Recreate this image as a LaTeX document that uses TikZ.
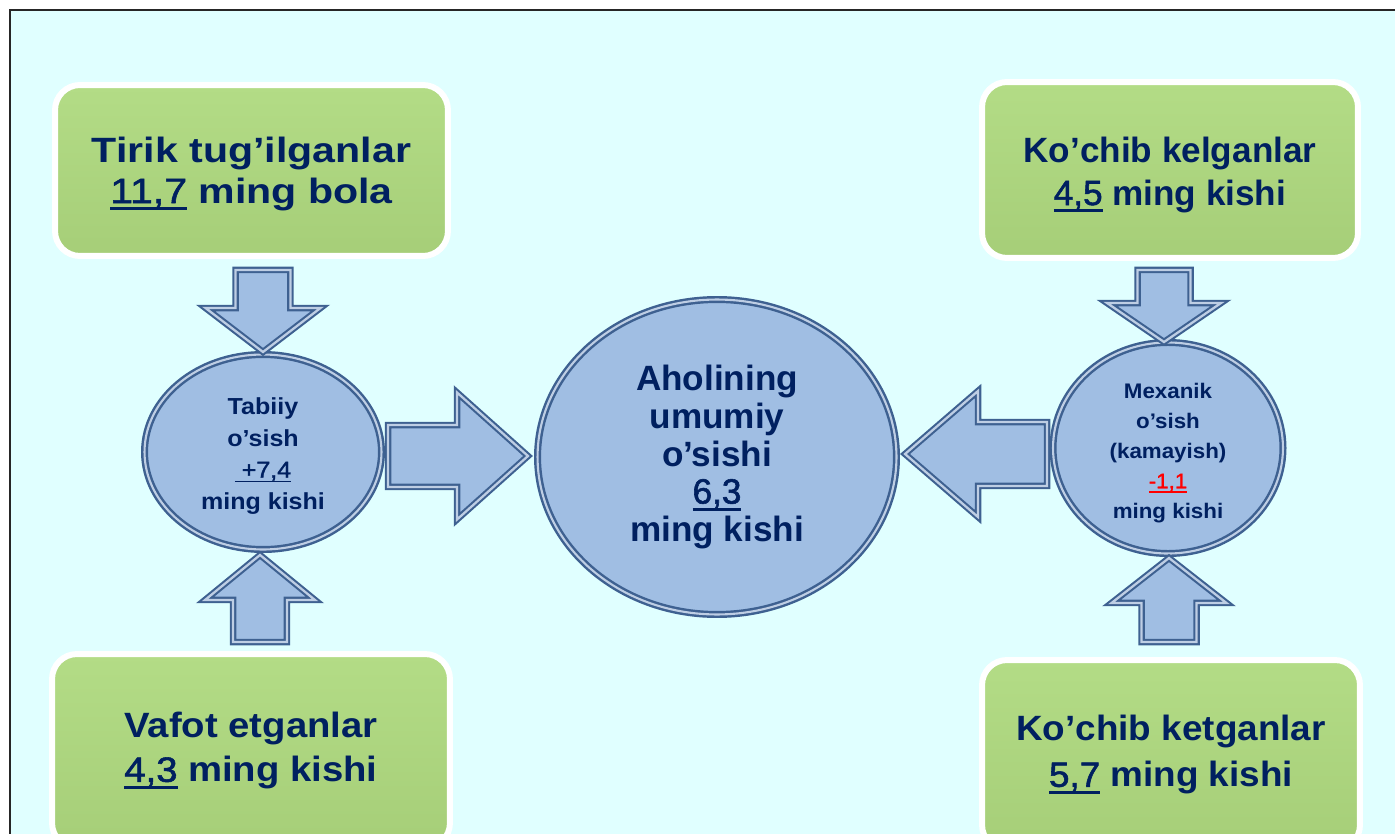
\documentclass[tikz,border=0pt]{standalone}
\usepackage{fontspec}
\setmainfont{Liberation Sans}
\newfontfamily\tlfont{Liberation Sans}[FakeStretch=1.17]
\newfontfamily\blfont{Liberation Sans}[FakeStretch=1.09]
\newfontfamily\brfont{Liberation Sans}[FakeStretch=1.05]
\newfontfamily\lellfont{Liberation Sans}[FakeStretch=1.08]
\newfontfamily\rellfont{Liberation Sans}[FakeStretch=1.06]
\usetikzlibrary{shapes.geometric,calc}
\definecolor{bgcyan}{RGB}{224,255,255}
\definecolor{navy}{RGB}{0,32,96}
\definecolor{greentop}{RGB}{179,220,134}
\definecolor{greenbot}{RGB}{166,206,120}
\definecolor{bluefill}{RGB}{160,190,227}
\definecolor{bluedark}{RGB}{62,97,145}
\definecolor{bluelight}{RGB}{190,206,228}
\definecolor{numred}{RGB}{255,0,0}
\newcommand\numtxt[1]{\mdseries\addfontfeatures{FakeBold=1.6}#1}
\newcommand\myul[1]{\setbox0\hbox{\numtxt{#1}}\rlap{\rule[-0.2em]{\wd0}{0.075em}}\box0\relax}
\newcommand\blockarr[5]{%
  \path ($(#2)!#5!(#1)$) coordinate (bah);
  \filldraw[arrowbox] ($(#1)!#3!90:(#2)$) -- ($(bah)!#3!90:(#2)$) -- ($(bah)!#4!90:(#2)$) -- (#2) -- ($(bah)!#4!-90:(#2)$) -- ($(bah)!#3!-90:(#2)$) -- ($(#1)!#3!-90:(#2)$) -- cycle;}
\tikzset{
  greenbox/.style={rectangle, rounded corners=0.5cm, draw=white, line width=3.4pt,
    top color=greentop, bottom color=greenbot, text=navy, align=center, inner sep=0pt},
  ell/.style={ellipse, fill=bluefill, draw=bluedark, double=bluelight, line width=1.4pt,
    double distance=1.2pt, text=navy, align=center, inner sep=0pt},
  arrowbox/.style={fill=bluefill, draw=bluedark, double=bluelight, line width=1.2pt,
    double distance=1.3pt, line join=miter}
}
\begin{document}
\begin{tikzpicture}[x=0.02cm, y=-0.02cm]
\useasboundingbox (0,0) rectangle (1395,834);
\clip (0,0) rectangle (1395,834);
\fill[white] (0,0) rectangle (1395,834);
\filldraw[fill=bgcyan, draw=black!85, line width=1.2pt] (10,10) rectangle (1430,880);

% green boxes
\node[greenbox, minimum width=7.86cm, minimum height=3.42cm,
  font=\tlfont\bfseries\fontsize{20}{23.3}\selectfont] (tl) at (251.5,170.5)
  {\rule{0pt}{18.7pt}Tirik tug’ilganlar\\\myul{11,7} ming bola\rule[-5pt]{0pt}{0pt}};
\node[greenbox, minimum width=7.52cm, minimum height=3.52cm,
  font=\bfseries\fontsize{20}{24.5}\selectfont] (tr) at (1170,170)
  {\rule{0pt}{20.4pt}Ko’chib kelganlar\\\myul{4,5} ming kishi\rule[-5pt]{0pt}{0pt}};
\node[greenbox, minimum width=7.96cm, minimum height=3.88cm,
  font=\blfont\bfseries\fontsize{20}{25.5}\selectfont] (bl) at (251,751)
  {\rule{0pt}{15.1pt}Vafot etganlar\\\myul{4,3} ming kishi\rule[-5.5pt]{0pt}{0pt}};
\node[greenbox, minimum width=7.56cm, minimum height=3.8cm,
  font=\brfont\bfseries\fontsize{20}{26.6}\selectfont] (br) at (1171,755)
  {\rule{0pt}{15.1pt}Ko’chib ketganlar\\\myul{5,7} ming kishi\rule[-5.5pt]{0pt}{0pt}};

% ellipses
\node[ell, minimum width=4.74cm, minimum height=3.9cm,
  font=\lellfont\bfseries\fontsize{13.2}{18}\selectfont] (lell) at (263,452)
  {\rule{0pt}{14.1pt}Tabiiy\\o’sish\\\myul{\ +7,4}\\ming kishi};
\node[ell, minimum width=7.18cm, minimum height=6.3cm,
  font=\bfseries\fontsize{20}{21.4}\selectfont] (cell) at (717,457)
  {Aholining\\umumiy\\o’sishi\\\myul{6,3}\\ming kishi};
\node[ell, minimum width=4.6cm, minimum height=4.14cm,
  font=\rellfont\bfseries\fontsize{12}{17}\selectfont] (rell) at (1168,448)
  {\rule{0pt}{14.4pt}Mexanik\\o’sish\\(kamayish)\\{\color{numred}\myul{-1,1}}\\ming kishi};

% block arrows
\coordinate (a1s) at (263,270);  \coordinate (a1t) at (263,352);
\coordinate (a2s) at (260,642);  \coordinate (a2t) at (260,555);
\coordinate (a3s) at (388,456);  \coordinate (a3t) at (528,456);
\coordinate (a4s) at (1047,454); \coordinate (a4t) at (905,454);
\coordinate (a5s) at (1164,270); \coordinate (a5t) at (1164,342);
\coordinate (a6s) at (1169,642); \coordinate (a6t) at (1169,558);
\blockarr{a1s}{a1t}{0.55cm}{1.15cm}{0.88cm}
\blockarr{a2s}{a2t}{0.54cm}{1.1cm}{0.9cm}
\blockarr{a3s}{a3t}{0.62cm}{1.27cm}{1.42cm}
\blockarr{a4s}{a4t}{0.64cm}{1.26cm}{1.46cm}
\blockarr{a5s}{a5t}{0.53cm}{1.14cm}{0.78cm}
\blockarr{a6s}{a6t}{0.55cm}{1.15cm}{0.9cm}
\end{tikzpicture}
\end{document}
